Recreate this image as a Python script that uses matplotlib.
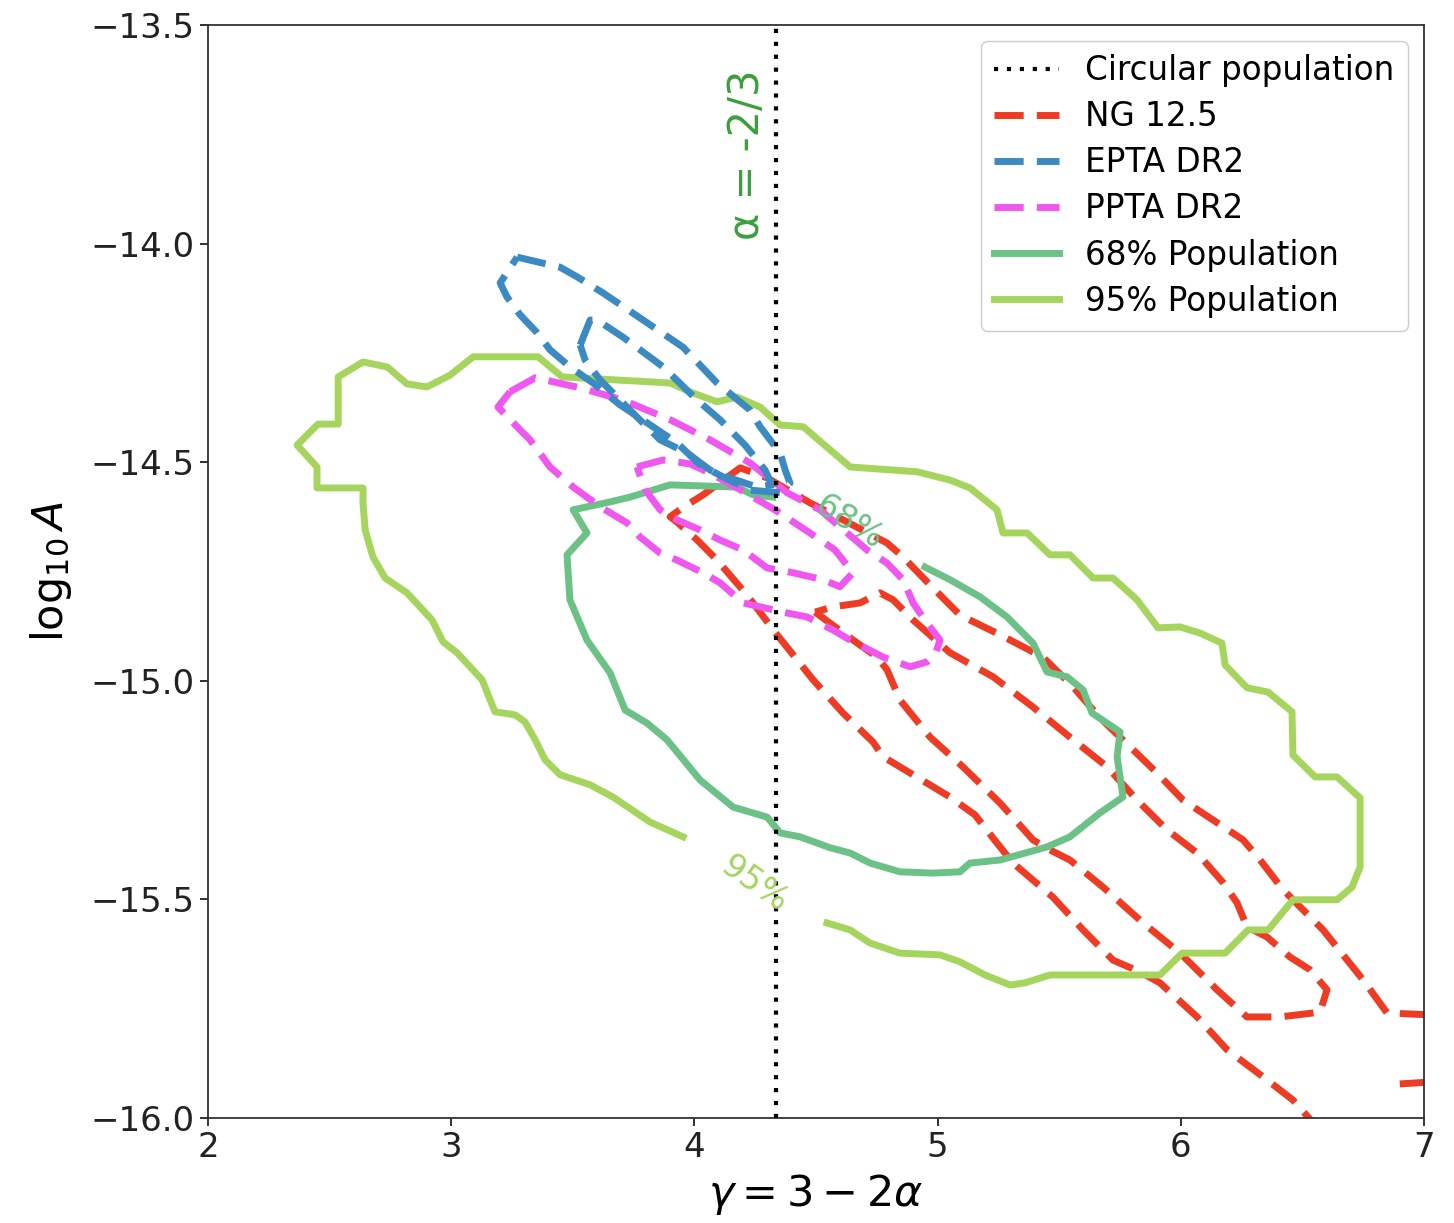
import numpy as np
import matplotlib.pyplot as plt

# circular binaries: alpha = -2/3  ->  gamma = 3 - 2*alpha = 13/3
gamma_circ = 13.0 / 3.0

# population contours (gamma, log10 A); each line is broken where its label sits
pop95_gamma = [3.953, 3.817, 3.665, 3.571, 3.447, 3.386, 3.345, 3.303, 3.262, 3.180,
               3.160, 3.127, 3.024, 2.966, 2.921, 2.818, 2.728, 2.678, 2.646, 2.637,
               2.637, 2.448, 2.448, 2.366, 2.452, 2.535, 2.535, 2.637, 2.736, 2.818,
               2.900, 2.995, 3.090, 3.357, 3.456, 3.900, 3.994, 4.093, 4.175, 4.270,
               4.352, 4.447, 4.640, 4.915, 5.051, 5.133, 5.244, 5.269, 5.368, 5.462,
               5.544, 5.639, 5.721, 5.820, 5.906, 5.997, 6.079, 6.169, 6.182, 6.272,
               6.359, 6.457, 6.461, 6.552, 6.642, 6.737, 6.737, 6.704, 6.642, 6.461,
               6.359, 6.276, 6.182, 6.005, 5.914, 5.462, 5.359, 5.298, 5.195, 5.092,
               5.010, 4.845, 4.722, 4.640, 4.545]
pop95_logA = [-15.357, -15.323, -15.266, -15.238, -15.215, -15.181, -15.135, -15.094, -15.078, -15.071,
              -15.044, -14.998, -14.936, -14.911, -14.861, -14.799, -14.765, -14.717, -14.655, -14.593,
              -14.559, -14.559, -14.511, -14.461, -14.413, -14.413, -14.305, -14.271, -14.282, -14.321,
              -14.328, -14.301, -14.259, -14.259, -14.305, -14.319, -14.342, -14.362, -14.351, -14.374,
              -14.415, -14.419, -14.511, -14.522, -14.541, -14.559, -14.609, -14.662, -14.662, -14.712,
              -14.712, -14.765, -14.765, -14.815, -14.879, -14.877, -14.891, -14.914, -14.964, -15.016,
              -15.026, -15.071, -15.170, -15.220, -15.220, -15.268, -15.426, -15.472, -15.501, -15.501,
              -15.570, -15.570, -15.623, -15.623, -15.673, -15.673, -15.691, -15.696, -15.673, -15.643,
              -15.627, -15.623, -15.600, -15.570, -15.554]

pop68_gamma = [4.948, 5.051, 5.174, 5.285, 5.392, 5.450, 5.532, 5.598, 5.635, 5.750,
               5.738, 5.762, 5.668, 5.544, 5.450, 5.257, 5.133, 5.092, 4.981, 4.845,
               4.722, 4.640, 4.558, 4.434, 4.352, 4.299, 4.159, 4.023, 3.887, 3.805,
               3.715, 3.653, 3.558, 3.488, 3.476, 3.558, 3.501, 3.653, 3.735, 3.900,
               4.175, 4.241, 4.323]
pop68_logA = [-14.740, -14.769, -14.808, -14.854, -14.914, -14.980, -14.991, -15.021, -15.074, -15.117,
              -15.174, -15.266, -15.302, -15.357, -15.380, -15.410, -15.417, -15.437, -15.440, -15.437,
              -15.417, -15.394, -15.382, -15.357, -15.348, -15.312, -15.289, -15.227, -15.135, -15.097,
              -15.067, -14.982, -14.907, -14.815, -14.712, -14.662, -14.609, -14.591, -14.580, -14.552,
              -14.557, -14.575, -14.580]

# NANOGrav 12.5 yr: outer (enters/leaves through the right and bottom edges) and inner contour
ng_out_gamma = [7.02, 6.848, 6.749, 6.585, 6.420, 6.326, 6.256, 6.120, 6.009, 5.902,
                5.791, 5.668, 5.557, 5.433, 5.257, 5.092, 4.969, 4.858, 4.792, 4.611,
                4.475, 4.299, 4.188, 4.035, 3.949, 3.900, 3.928, 4.011, 4.093, 4.216,
                4.340, 4.488, 4.611, 4.734, 4.776, 4.887, 5.051, 5.154, 5.228, 5.310,
                5.474, 5.598, 5.721, 5.832, 5.914, 6.067, 6.190, 6.338, 6.461, 6.552]
ng_out_logA = [-15.764, -15.760, -15.684, -15.570, -15.478, -15.410, -15.364, -15.314, -15.273, -15.211,
               -15.151, -15.085, -15.014, -14.946, -14.895, -14.850, -14.781, -14.717, -14.685, -14.632,
               -14.593, -14.536, -14.513, -14.575, -14.605, -14.625, -14.637, -14.678, -14.724, -14.804,
               -14.895, -14.998, -15.074, -15.140, -15.174, -15.211, -15.266, -15.307, -15.360, -15.417,
               -15.495, -15.570, -15.639, -15.666, -15.691, -15.769, -15.844, -15.906, -15.959, -16.016]
ng_corner_gamma = [7.02, 6.85]
ng_corner_logA = [-15.918, -15.924]

ng_in_gamma = [4.496, 4.640, 4.751, 4.792, 4.845, 4.969, 5.104, 5.257, 5.392, 5.462,
               5.544, 5.680, 5.845, 5.997, 6.149, 6.272, 6.408, 6.572, 6.601, 6.531,
               6.449, 6.354, 6.272, 6.231, 6.174, 6.067, 5.943, 5.820, 5.697, 5.544,
               5.392, 5.228, 5.051, 4.899, 4.817, 4.763, 4.681, 4.570, 4.496]
ng_in_logA = [-14.843, -14.902, -14.946, -14.975, -15.044, -15.129, -15.197, -15.280, -15.364, -15.387,
              -15.410, -15.472, -15.554, -15.623, -15.707, -15.769, -15.769, -15.758, -15.707, -15.661,
              -15.632, -15.586, -15.563, -15.508, -15.462, -15.394, -15.341, -15.273, -15.197, -15.129,
              -15.060, -14.991, -14.936, -14.861, -14.815, -14.799, -14.822, -14.831, -14.843]

# EPTA DR2
epta_out_gamma = [3.271, 3.324, 3.447, 3.517, 3.624, 3.789, 3.953, 4.093, 4.229, 4.270,
                  4.352, 4.373, 4.393, 4.352, 4.229, 4.118, 4.023, 3.928, 3.805, 3.694,
                  3.583, 3.488, 3.406, 3.353, 3.283, 3.229, 3.201, 3.271]
epta_out_logA = [-14.031, -14.038, -14.054, -14.076, -14.113, -14.175, -14.237, -14.319, -14.381, -14.419,
                 -14.479, -14.518, -14.548, -14.570, -14.564, -14.534, -14.506, -14.456, -14.410, -14.369,
                 -14.319, -14.282, -14.243, -14.204, -14.163, -14.122, -14.090, -14.031]

epta_in_gamma = [3.530, 3.571, 3.600, 3.706, 3.871, 4.011, 4.105, 4.208, 4.290, 4.319,
                 4.257, 4.134, 4.064, 3.970, 3.859, 3.735, 3.612, 3.550, 3.530]
epta_in_logA = [-14.232, -14.175, -14.175, -14.214, -14.282, -14.358, -14.403, -14.461, -14.518, -14.552,
                -14.557, -14.534, -14.518, -14.479, -14.449, -14.381, -14.312, -14.266, -14.232]

# PPTA DR2
ppta_out_gamma = [3.242, 3.345, 3.530, 3.706, 3.900, 4.064, 4.229, 4.381, 4.516, 4.710,
                  4.792, 4.858, 4.899, 4.956, 5.010, 4.989, 4.956, 4.887, 4.776, 4.640,
                  4.570, 4.463, 4.381, 4.270, 4.200, 4.105, 4.035, 3.928, 3.859, 3.776,
                  3.723, 3.612, 3.501, 3.406, 3.324, 3.283, 3.192, 3.242]
ppta_out_logA = [-14.339, -14.307, -14.330, -14.358, -14.403, -14.449, -14.502, -14.570, -14.609, -14.701,
                 -14.731, -14.769, -14.822, -14.868, -14.907, -14.941, -14.957, -14.968, -14.946, -14.907,
                 -14.884, -14.854, -14.845, -14.831, -14.822, -14.776, -14.753, -14.724, -14.708, -14.671,
                 -14.639, -14.602, -14.557, -14.511, -14.449, -14.426, -14.374, -14.339]

ppta_in_gamma = [3.764, 3.871, 3.982, 4.064, 4.188, 4.331, 4.475, 4.578, 4.652, 4.598,
                 4.529, 4.406, 4.299, 4.200, 4.105, 4.023, 3.928, 3.859, 3.797, 3.764]
ppta_in_logA = [-14.511, -14.495, -14.504, -14.525, -14.563, -14.609, -14.662, -14.701, -14.753, -14.785,
                -14.769, -14.753, -14.742, -14.701, -14.678, -14.655, -14.632, -14.609, -14.563, -14.511]

c_ng = '#ee3b24'
c_epta = '#3b8bc2'
c_ppta = '#f057f0'
c_68 = '#6cc286'
c_95 = '#a6d55e'
c_alpha = '#3aa03a'

plt.rcParams['font.size'] = 23

fig = plt.figure(figsize=(14.54, 12.23), dpi=100)
ax = fig.add_axes([0.1431, 0.0859, 0.8363, 0.8937])

lw = 5
dash = (4.2, 1.9)

ax.axvline(gamma_circ, color='black', lw=3, dashes=(1, 2.1), label='Circular population', zorder=6)

ax.plot(ng_out_gamma, ng_out_logA, color=c_ng, lw=lw, dashes=dash, label='NG 12.5', zorder=2)
ax.plot(ng_corner_gamma, ng_corner_logA, color=c_ng, lw=lw, dashes=dash, zorder=2)
ax.plot(ng_in_gamma, ng_in_logA, color=c_ng, lw=lw, dashes=dash, zorder=2)

ax.plot(epta_out_gamma, epta_out_logA, color=c_epta, lw=lw, dashes=dash, label='EPTA DR2', zorder=5)
ax.plot(epta_in_gamma, epta_in_logA, color=c_epta, lw=lw, dashes=dash, zorder=5)

ax.plot(ppta_out_gamma, ppta_out_logA, color=c_ppta, lw=lw, dashes=dash, label='PPTA DR2', zorder=4)
ax.plot(ppta_in_gamma, ppta_in_logA, color=c_ppta, lw=lw, dashes=dash, zorder=4)

ax.plot(pop68_gamma, pop68_logA, color=c_68, lw=lw, label='68% Population', zorder=3)
ax.plot(pop95_gamma, pop95_logA, color=c_95, lw=lw, label='95% Population', zorder=3)

# contour level labels
ax.text(4.636, -14.639, '68%', color=c_68, fontsize=24, rotation=-32,
        ha='center', va='center', zorder=7)
ax.text(4.249, -15.467, '95%', color=c_95, fontsize=24, rotation=-35,
        ha='center', va='center', zorder=7)

ax.text(4.217, -13.797, r'α = -2/3', color=c_alpha, fontsize=30, rotation=90,
        ha='center', va='center')

ax.set_xlim(2, 7)
ax.set_ylim(-16, -13.5)
ax.set_xticks([2, 3, 4, 5, 6, 7])
ax.set_yticks([-16.0, -15.5, -15.0, -14.5, -14.0, -13.5])
ax.set_yticklabels(['−16.0', '−15.5', '−15.0', '−14.5', '−14.0', '−13.5'])
ax.tick_params(labelsize=24.5, length=6, width=1.3, colors='#222222')
for s in ax.spines.values():
    s.set_linewidth(1.3)
    s.set_color('#333333')

ax.set_xlabel(r'$\gamma = 3 - 2\alpha$', fontsize=31, labelpad=6)
ax.set_ylabel(r'$\log_{10}A$', fontsize=31, labelpad=12)

ax.legend(loc='upper right', fontsize=23.5, labelspacing=0.40, handlelength=2.0,
          handletextpad=0.8, borderpad=0.4, framealpha=1.0, edgecolor='#cccccc')

fig.savefig('out.png', dpi=100)
